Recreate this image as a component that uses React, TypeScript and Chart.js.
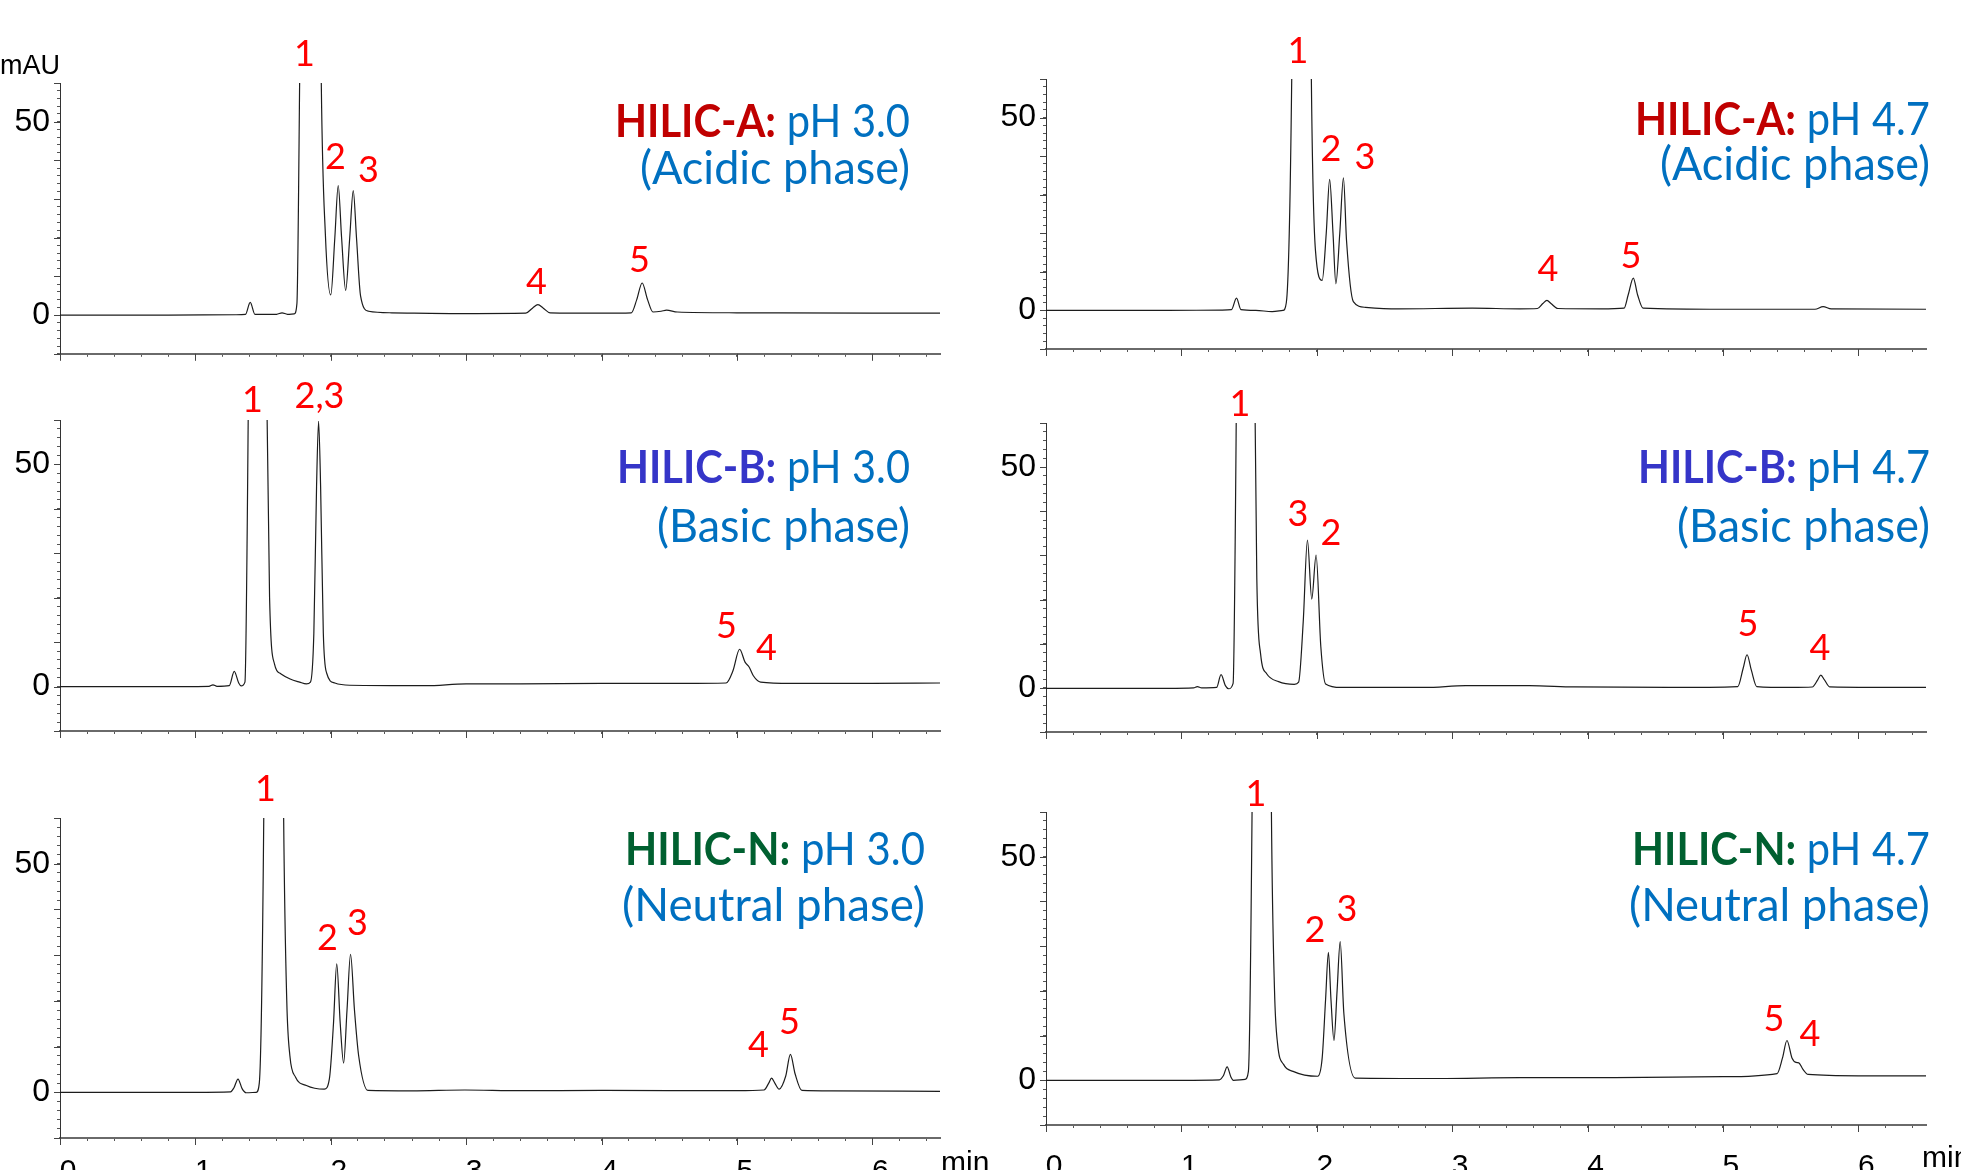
import React, { useEffect, useRef } from 'react';
import { Chart, registerables } from 'chart.js';

Chart.register(...registerables);

// ---------------- DATA ----------------
const xLabelValues = [0, 1, 2, 3, 4, 5, 6];
const yLabelValues = [0, 50];
const xUnit = 'min';
const yUnit = 'mAU';

// HILIC-A, pH 3.0
const hilicA30Time = [0, 0.8, 1.30, 1.37, 1.405, 1.44, 1.60, 1.64, 1.68, 1.73, 1.75, 1.77, 1.85, 1.93, 1.96, 2.00, 2.03, 2.055, 2.08, 2.11, 2.14, 2.166, 2.19, 2.22, 2.28, 2.45, 3.0, 3.44, 3.49, 3.53, 3.57, 3.62, 4.0, 4.22, 4.26, 4.30, 4.34, 4.38, 4.44, 4.48, 4.56, 5.0, 6.0, 6.5];
const hilicA30Signal = [0, 0, 0.1, 0.2, 3.3, 0.2, 0.2, 0.6, 0.2, 0.3, 3, 60, 400, 60, 21, 5.2, 20, 33.5, 20, 6.4, 20, 32.2, 20, 5, 1.0, 0.6, 0.4, 0.5, 1.8, 2.7, 1.8, 0.6, 0.5, 0.6, 4, 8.3, 4, 0.8, 1.0, 1.3, 0.8, 0.6, 0.5, 0.5];
const hilicA30PeakNames = ['1', '2', '3', '4', '5'];
const hilicA30PeakTime = [1.806, 2.035, 2.278, 3.519, 4.28];
const hilicA30PeakLevel = [67.8, 41.2, 37.8, 8.9, 14.5];

// HILIC-A, pH 4.7
const hilicA47Time = [0, 0.9, 1.30, 1.37, 1.407, 1.44, 1.55, 1.67, 1.75, 1.775, 1.815, 1.89, 1.96, 1.99, 2.04, 2.07, 2.095, 2.12, 2.141, 2.17, 2.197, 2.22, 2.27, 2.36, 2.6, 3.15, 3.5, 3.63, 3.67, 3.70, 3.73, 3.78, 4.1, 4.27, 4.30, 4.338, 4.37, 4.41, 5.0, 5.68, 5.74, 5.80, 6.5];
const hilicA47Signal = [0, 0, 0.1, 0.2, 3.2, 0.2, 0, -0.3, 0, 2, 60, 400, 60, 15.7, 7.8, 20, 34, 20, 6.9, 20, 34.4, 18, 2.3, 0.8, 0.4, 0.6, 0.4, 0.5, 1.8, 2.6, 1.8, 0.5, 0.4, 0.6, 4, 8.4, 4, 0.6, 0.3, 0.3, 1.0, 0.4, 0.3];
const hilicA47PeakNames = ['1', '2', '3', '4', '5'];
const hilicA47PeakTime = [1.861, 2.105, 2.356, 3.708, 4.32];
const hilicA47PeakLevel = [67.5, 42.1, 40.0, 11.0, 14.4];

// HILIC-B, pH 3.0
const hilicB30Time = [0, 0.9, 1.10, 1.13, 1.16, 1.25, 1.287, 1.32, 1.338, 1.366, 1.39, 1.46, 1.53, 1.548, 1.585, 1.63, 1.70, 1.77, 1.82, 1.85, 1.875, 1.895, 1.91, 1.925, 1.945, 1.97, 2.03, 2.14, 2.7, 3.0, 3.4, 4.0, 4.6, 4.92, 4.97, 5.02, 5.06, 5.09, 5.12, 5.175, 5.4, 6.0, 6.5];
const hilicB30Signal = [0, 0, 0.05, 0.4, 0.05, 0.2, 3.4, 0.8, 0.15, 1.0, 60, 400, 60, 20, 5, 2.9, 1.7, 1.0, 0.6, 1.0, 12, 45, 59.7, 45, 12, 3, 0.8, 0.3, 0.2, 0.6, 0.6, 0.7, 0.7, 0.8, 3.5, 8.4, 5.5, 4.4, 2.5, 1.0, 0.7, 0.7, 0.8];
const hilicB30PeakNames = ['1', '2,3', '5', '4'];
const hilicB30PeakTime = [1.422, 1.917, 4.922, 5.218];
const hilicB30PeakLevel = [64.7, 65.7, 13.9, 8.9];

// HILIC-B, pH 4.7
const hilicB47Time = [0, 0.9, 1.09, 1.118, 1.15, 1.26, 1.293, 1.325, 1.349, 1.382, 1.405, 1.475, 1.545, 1.557, 1.585, 1.63, 1.718, 1.834, 1.866, 1.90, 1.931, 1.963, 1.995, 2.03, 2.065, 2.18, 2.8, 3.1, 3.57, 3.9, 4.6, 5.11, 5.15, 5.178, 5.21, 5.25, 5.5, 5.66, 5.70, 5.723, 5.75, 5.79, 6.1, 6.5];
const hilicB47Signal = [-0.1, -0.1, 0, 0.3, 0, 0.1, 3.0, 0.5, -0.2, 1, 60, 400, 60, 25, 7.7, 3.2, 1.4, 0.8, 1.3, 15, 33.5, 20.1, 30.1, 9.3, 0.9, 0.1, 0.1, 0.5, 0.5, 0.2, 0.1, 0.3, 4.5, 7.5, 4, 0.3, 0.1, 0.2, 1.8, 2.9, 1.8, 0.2, 0.1, 0.1];
const hilicB47PeakNames = ['1', '3', '2', '5', '4'];
const hilicB47PeakTime = [1.433, 1.861, 2.105, 5.185, 5.716];
const hilicB47PeakLevel = [64.5, 39.6, 35.3, 14.7, 9.3];

// HILIC-N, pH 3.0
const hilicN30Time = [0, 1.0, 1.26, 1.285, 1.315, 1.345, 1.375, 1.45, 1.472, 1.505, 1.575, 1.652, 1.675, 1.698, 1.74, 1.82, 1.952, 1.99, 2.02, 2.044, 2.07, 2.095, 2.12, 2.146, 2.175, 2.206, 2.275, 2.6, 2.99, 3.4, 4.0, 5.0, 5.2, 5.235, 5.256, 5.28, 5.312, 5.36, 5.395, 5.43, 5.48, 5.7, 6.5];
const hilicN30Signal = [0, 0, 0.1, 1.0, 2.9, 0.8, -0.1, 0, 2, 60, 400, 60, 20, 8, 3.3, 1.5, 0.7, 3, 15, 28.1, 15, 6.4, 18, 30.2, 18, 8, 0.4, 0.3, 0.5, 0.35, 0.4, 0.35, 0.5, 2, 3.1, 2, 0.7, 3.5, 8.3, 4, 0.4, 0.3, 0.2];
const hilicN30PeakNames = ['1', '2', '3', '4', '5'];
const hilicN30PeakTime = [1.518, 1.976, 2.197, 5.159, 5.388];
const hilicN30PeakLevel = [66.6, 34.0, 37.3, 10.6, 15.6];

// HILIC-N, pH 4.7
const hilicN47Time = [0, 1.0, 1.28, 1.31, 1.338, 1.365, 1.384, 1.47, 1.495, 1.522, 1.595, 1.665, 1.688, 1.71, 1.756, 1.825, 2.007, 2.04, 2.065, 2.086, 2.105, 2.127, 2.15, 2.173, 2.2, 2.284, 2.9, 3.5, 4.2, 5.0, 5.40, 5.44, 5.473, 5.51, 5.54, 5.561, 5.59, 5.63, 6.0, 6.5];
const hilicN47Signal = [0, 0, 0.1, 1.0, 3.0, 0.8, 0, 0.2, 2, 60, 400, 60, 20, 8.3, 3.5, 2.0, 0.9, 5, 18, 28.6, 18, 8.9, 20, 31.0, 15, 0.5, 0.4, 0.6, 0.6, 0.8, 1.5, 5, 8.9, 5, 4, 3.9, 2.5, 1.3, 1.0, 1.0];
const hilicN47PeakNames = ['1', '2', '3', '5', '4'];
const hilicN47PeakTime = [1.551, 1.987, 2.223, 5.377, 5.643];
const hilicN47PeakLevel = [64.3, 33.8, 38.5, 13.9, 10.6];

const phaseNames = ['HILIC-A:', 'HILIC-A:', 'HILIC-B:', 'HILIC-B:', 'HILIC-N:', 'HILIC-N:'];
const phasePH = ['pH 3.0', 'pH 4.7', 'pH 3.0', 'pH 4.7', 'pH 3.0', 'pH 4.7'];
const phaseNotes = ['(Acidic phase)', '(Acidic phase)', '(Basic phase)', '(Basic phase)', '(Neutral phase)', '(Neutral phase)'];

// ---------------- LAYOUT / STYLE ----------------
const NAME_COLORS: Record<string, string> = { 'HILIC-A:': '#C00000', 'HILIC-B:': '#3535C8', 'HILIC-N:': '#006030' };
const PH_COLOR = '#0070C0';
const PEAK_COLOR = '#FF0000';
const TITLE_FONT = 'Lato, "Open Sans", sans-serif';
const TICK_FONT = '"Liberation Sans", Arial, sans-serif';
const TITLE_SIZE = 46;

type Layout = {
  canvas: [number, number, number, number];
  area: [number, number, number, number];
  titleRight: number; base1: number; base2: number; w1: number; w2: number;
  showX: boolean; yPad: number; xPad: number;
  unitY?: [number, number]; unitX?: [number, number];
};

const layouts: Layout[] = [
  { canvas: [0, 0, 1000, 380], area: [60, 83, 940, 354], titleRight: 910, base1: 137, base2: 184, w1: 295, w2: 270, showX: false, yPad: 7, xPad: 10, unitY: [0, 74] },
  { canvas: [980, 0, 981, 380], area: [1046, 79, 1926, 349], titleRight: 1930, base1: 135, base2: 180, w1: 295, w2: 270, showX: false, yPad: 7, xPad: 10 },
  { canvas: [0, 380, 1000, 380], area: [60, 420, 940, 731], titleRight: 910, base1: 483, base2: 542, w1: 293, w2: 253, showX: false, yPad: 7, xPad: 10 },
  { canvas: [980, 380, 981, 380], area: [1046, 423, 1926, 732], titleRight: 1930, base1: 483, base2: 542, w1: 292, w2: 253, showX: false, yPad: 7, xPad: 10 },
  { canvas: [0, 760, 1000, 410], area: [60, 818, 940, 1138], titleRight: 925, base1: 865, base2: 921, w1: 300, w2: 303, showX: true, yPad: 7, xPad: 13, unitX: [941, 1172] },
  { canvas: [980, 760, 981, 410], area: [1046, 812, 1926, 1125], titleRight: 1930, base1: 865, base2: 921, w1: 298, w2: 301, showX: true, yPad: 7, xPad: 21, unitX: [1922, 1167] },
];

const series = [
  { time: hilicA30Time, signal: hilicA30Signal, names: hilicA30PeakNames, pt: hilicA30PeakTime, pl: hilicA30PeakLevel },
  { time: hilicA47Time, signal: hilicA47Signal, names: hilicA47PeakNames, pt: hilicA47PeakTime, pl: hilicA47PeakLevel },
  { time: hilicB30Time, signal: hilicB30Signal, names: hilicB30PeakNames, pt: hilicB30PeakTime, pl: hilicB30PeakLevel },
  { time: hilicB47Time, signal: hilicB47Signal, names: hilicB47PeakNames, pt: hilicB47PeakTime, pl: hilicB47PeakLevel },
  { time: hilicN30Time, signal: hilicN30Signal, names: hilicN30PeakNames, pt: hilicN30PeakTime, pl: hilicN30PeakLevel },
  { time: hilicN47Time, signal: hilicN47Signal, names: hilicN47PeakNames, pt: hilicN47PeakTime, pl: hilicN47PeakLevel },
];

function buildTicks(from: number, to: number, step: number) {
  const out: { value: number }[] = [];
  const n = Math.round((to - from) / step);
  for (let i = 0; i <= n; i++) out.push({ value: +(from + i * step).toFixed(4) });
  return out;
}

function drawRich(ctx: CanvasRenderingContext2D, segs: { text: string; bold: boolean; color: string }[], right: number, base: number, size: number, target: number) {
  const widths: number[] = [];
  let total = 0;
  segs.forEach((s) => {
    ctx.font = `${s.bold ? 'bold ' : ''}${size}px ${TITLE_FONT}`;
    const w = ctx.measureText(s.text).width;
    widths.push(w);
    total += w;
  });
  const sx = target / total;
  ctx.save();
  ctx.translate(right - target, base);
  ctx.scale(sx, 1);
  let x = 0;
  segs.forEach((s, i) => {
    ctx.font = `${s.bold ? 'bold ' : ''}${size}px ${TITLE_FONT}`;
    ctx.fillStyle = s.color;
    ctx.textAlign = 'left';
    ctx.textBaseline = 'alphabetic';
    ctx.fillText(s.text, x, 0);
    x += widths[i];
  });
  ctx.restore();
}

function decorPlugin(idx: number) {
  const lay = layouts[idx];
  const s = series[idx];
  const [cx, cy] = lay.canvas;
  return {
    id: 'decor' + idx,
    afterDraw(chart: any) {
      const ctx: CanvasRenderingContext2D = chart.ctx;
      const xs = chart.scales.x;
      const ys = chart.scales.y;
      const a = chart.chartArea;
      ctx.save();
      // longer major ticks
      ctx.strokeStyle = '#444';
      ctx.lineWidth = 1;
      ctx.beginPath();
      xLabelValues.forEach((v) => {
        const px = Math.round(xs.getPixelForValue(v)) + 0.5;
        ctx.moveTo(px, a.bottom);
        ctx.lineTo(px, a.bottom + 7);
      });
      for (let v = -10; v <= 60; v += 10) {
        const py = Math.round(ys.getPixelForValue(v)) + 0.5;
        ctx.moveTo(a.left, py);
        ctx.lineTo(a.left - 6, py);
      }
      ctx.stroke();

      // panel title
      const name = phaseNames[idx];
      drawRich(ctx, [
        { text: name, bold: true, color: NAME_COLORS[name] },
        { text: ' ' + phasePH[idx], bold: false, color: PH_COLOR },
      ], lay.titleRight - cx, lay.base1 - cy, TITLE_SIZE, lay.w1);
      drawRich(ctx, [{ text: phaseNotes[idx], bold: false, color: PH_COLOR }], lay.titleRight - cx, lay.base2 - cy, TITLE_SIZE, lay.w2);

      // peak labels
      ctx.fillStyle = PEAK_COLOR;
      ctx.font = `36px ${TITLE_FONT}`;
      ctx.textAlign = 'center';
      ctx.textBaseline = 'alphabetic';
      s.names.forEach((n, i) => {
        const px = xs.getPixelForValue(s.pt[i]);
        const py = ys.getPixelForValue(s.pl[i]);
        ctx.fillText(n, px, py + 13);
      });

      // unit labels
      ctx.fillStyle = '#000';
      ctx.textAlign = 'left';
      if (lay.unitY) {
        ctx.font = `27px ${TICK_FONT}`;
        ctx.fillText(yUnit, lay.unitY[0] - cx, lay.unitY[1] - cy);
      }
      if (lay.unitX) {
        ctx.font = `30px ${TICK_FONT}`;
        ctx.fillText(xUnit, lay.unitX[0] - cx, lay.unitX[1] - cy);
      }
      ctx.restore();
    },
  };
}

function Panel({ idx }: { idx: number }) {
  const ref = useRef<HTMLCanvasElement>(null);
  const lay = layouts[idx];
  const [cx, cy, cw, ch] = lay.canvas;
  useEffect(() => {
    const s = series[idx];
    const [L, T, R, B] = lay.area;
    const chart = new Chart(ref.current as HTMLCanvasElement, {
      type: 'line',
      data: {
        datasets: [{
          data: s.time.map((t, i) => ({ x: t, y: s.signal[i] })),
          borderColor: '#1c1c1c',
          borderWidth: 1.2,
          pointRadius: 0,
          cubicInterpolationMode: 'monotone',
          fill: false,
        }],
      },
      options: {
        animation: false,
        responsive: false,
        devicePixelRatio: 1,
        events: [],
        layout: { padding: { left: 0, top: T - cy, right: cx + cw - R, bottom: 0 } },
        plugins: { legend: { display: false }, tooltip: { enabled: false }, title: { display: false } },
        scales: {
          x: {
            type: 'linear', position: 'bottom', min: 0, max: 6.5,
            afterBuildTicks: (sc: any) => { sc.ticks = buildTicks(0, 6.4, 0.2); },
            afterFit: (sc: any) => { sc.height = cy + ch - B; },
            grid: { display: true, drawOnChartArea: false, drawTicks: true, tickLength: 3, color: '#555', lineWidth: 1 },
            border: { display: true, color: '#6a6a6a', width: 2 },
            ticks: {
              display: lay.showX, autoSkip: false, maxRotation: 0, minRotation: 0, labelOffset: 8,
              padding: lay.xPad, color: '#000', font: { family: TICK_FONT, size: 30 },
              callback: (v: any) => {
                const n = Number(v);
                const r = Math.round(n);
                return Math.abs(n - r) < 1e-6 && xLabelValues.includes(r) ? String(r) : '';
              },
            },
          },
          y: {
            type: 'linear', position: 'left', min: -10, max: 60,
            afterBuildTicks: (sc: any) => { sc.ticks = buildTicks(-10, 60, 2); },
            afterFit: (sc: any) => { sc.width = L - cx; },
            grid: { display: true, drawOnChartArea: false, drawTicks: true, tickLength: 3, color: '#555', lineWidth: 1 },
            border: { display: true, color: '#333', width: 1 },
            ticks: {
              autoSkip: false, padding: lay.yPad, color: '#000', font: { family: TICK_FONT, size: 32 },
              callback: (v: any) => {
                const n = Math.round(Number(v));
                return yLabelValues.includes(n) && Math.abs(Number(v) - n) < 1e-6 ? String(n) : '';
              },
            },
          },
        },
      },
      plugins: [decorPlugin(idx)],
    } as any);
    return () => chart.destroy();
  }, [idx]);
  return (
    <canvas
      ref={ref}
      width={cw}
      height={ch}
      style={{ position: 'absolute', left: cx, top: cy, width: cw, height: ch }}
    />
  );
}

export default function App() {
  return (
    <div style={{ position: 'fixed', left: 0, top: 0, width: 1961, height: 1170, overflow: 'hidden', background: '#fff' }}>
      {layouts.map((_, i) => <Panel key={i} idx={i} />)}
    </div>
  );
}
